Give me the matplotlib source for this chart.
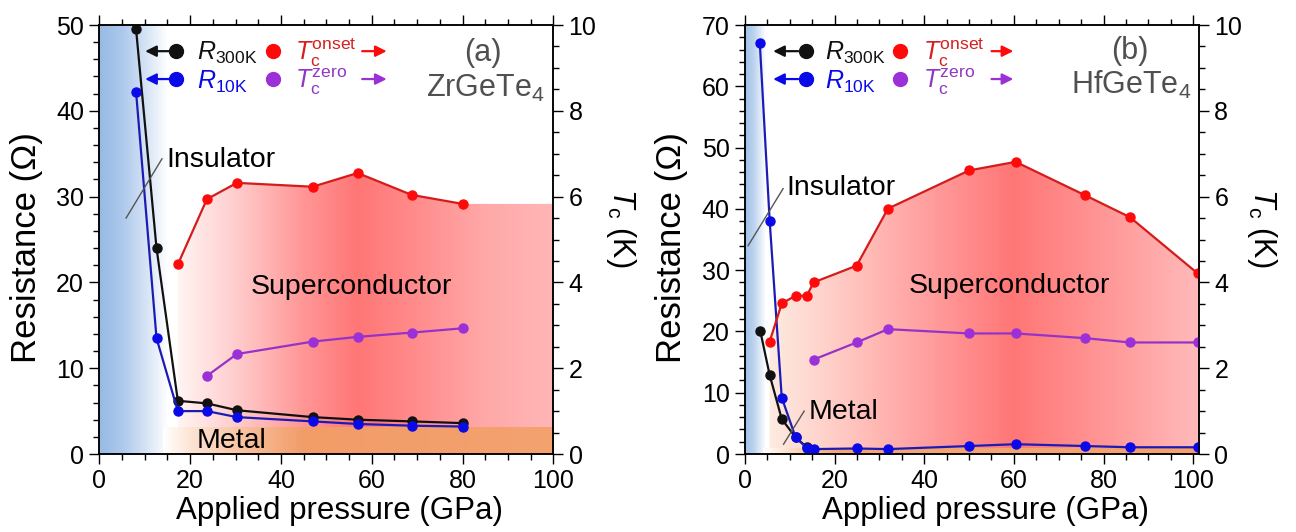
import numpy as np
import matplotlib
matplotlib.use('Agg')
import matplotlib.pyplot as plt
from matplotlib.patches import Polygon
from matplotlib.ticker import MultipleLocator

plt.rcParams['font.family'] = ['Liberation Sans', 'DejaVu Sans']
plt.rcParams['mathtext.fontset'] = 'custom'
plt.rcParams['mathtext.rm'] = 'Liberation Sans'
plt.rcParams['mathtext.it'] = 'Liberation Sans:italic'
plt.rcParams['mathtext.bf'] = 'Liberation Sans:bold'

# (a) ZrGeTe4
p_a = [8.1, 12.6, 17.3, 23.7, 30.3, 47.0, 56.9, 68.8, 80.0]
r300_a = [49.5, 24.0, 6.2, 5.9, 5.1, 4.3, 4.0, 3.8, 3.6]
r10_a = [42.2, 13.5, 5.0, 5.0, 4.3, 3.8, 3.5, 3.3, 3.2]
p_on_a = [17.3, 23.7, 30.3, 47.0, 56.9, 68.8, 80.0]
tc_onset_a = [4.42, 5.94, 6.32, 6.23, 6.55, 6.04, 5.83]
p_zero_a = [23.7, 30.3, 47.0, 56.9, 68.8, 80.0]
tc_zero_a = [1.82, 2.33, 2.62, 2.73, 2.83, 2.93]

# (b) HfGeTe4
p_r300_b = [3.4, 5.5, 8.2, 11.3, 13.8]
r300_b = [20.1, 12.9, 5.7, 2.7, 1.1]
p_r10_b = [3.3, 5.5, 8.2, 11.3, 13.8, 15.3, 24.9, 31.9, 50.0, 60.4, 75.9, 85.9, 101.0]
r10_b = [67.1, 38.1, 9.2, 2.7, 1.0, 0.8, 0.9, 0.8, 1.3, 1.6, 1.3, 1.1, 1.1]
p_on_b = [5.5, 8.2, 11.3, 13.8, 15.3, 24.9, 31.9, 50.0, 60.4, 75.9, 85.9, 101.0]
tc_onset_b = [2.62, 3.51, 3.69, 3.69, 4.00, 4.39, 5.72, 6.61, 6.81, 6.03, 5.52, 4.21]
p_zero_b = [15.3, 24.9, 31.9, 50.0, 60.4, 75.9, 85.9, 101.0]
tc_zero_b = [2.20, 2.60, 2.91, 2.81, 2.81, 2.70, 2.60, 2.60]

W, H = 1296, 532
fig = plt.figure(figsize=(W / 100, H / 100), dpi=100)


def hgrad(stops, n=300):
    xs = np.array([s[0] for s in stops], dtype=float)
    cols = np.array([s[1] for s in stops], dtype=float) / 255
    xx = np.linspace(xs[0], xs[-1], n)
    img = np.stack([np.interp(xx, xs, cols[:, k]) for k in range(3)], axis=-1)
    return img[np.newaxis, :, :], xs[0], xs[-1]


def draw_panel(left_px, xmax, rmax, d, blue_stops, sc_stops, metal_stops, metal_top):
    ax = fig.add_axes([left_px / W, 78 / H, 454 / W, 429 / H])
    ax2 = ax.twinx()
    ax.set_xlim(0, xmax)
    ax.set_ylim(0, rmax)
    ax2.set_ylim(0, 10)

    # insulator shading
    img, x0, x1 = hgrad(blue_stops)
    ax.imshow(img, extent=[x0, x1, 0, rmax], aspect='auto', zorder=0.2, interpolation='bilinear')
    # superconductor shading under Tc onset
    px = np.r_[d['p_on'][0], d['p_on'], xmax, xmax]
    py = np.r_[0, d['tc_on'], d['tc_on'][-1], 0]
    poly = Polygon(np.column_stack([px, py]), closed=True, transform=ax2.transData)
    img, x0, x1 = hgrad(sc_stops)
    im = ax.imshow(img, extent=[x0, x1, 0, rmax], aspect='auto', zorder=0.4, interpolation='bilinear')
    im.set_clip_path(poly)
    # metal band
    img, x0, x1 = hgrad(metal_stops)
    ax.imshow(img, extent=[x0, x1, 0, metal_top], aspect='auto', zorder=0.6, interpolation='bilinear')
    ax.set_xlim(0, xmax)
    ax.set_ylim(0, rmax)

    ax.plot(d['p_r300'], d['r300'], '-o', color='#111111', lw=1.6, ms=6.5, zorder=3)
    ax.plot(d['p_r10'], d['r10'], '-o', color='#1c1cb4', mfc='#0a0ae8', mec='#0a0ae8', lw=1.6, ms=6.5, zorder=4)
    ax2.plot(d['p_on'], d['tc_on'], '-o', color='#d41c1c', mfc='#ff0a0a', mec='#ff0a0a', lw=1.6, ms=6.5)
    ax2.plot(d['p_zero'], d['tc_zero'], '-o', color='#9632c8', mfc='#9b30d8', mec='#9b30d8', lw=1.6, ms=6.5)

    ax.xaxis.set_major_locator(MultipleLocator(20))
    ax.xaxis.set_minor_locator(MultipleLocator(5))
    ax.yaxis.set_major_locator(MultipleLocator(10))
    ax.yaxis.set_minor_locator(MultipleLocator(2))
    ax2.yaxis.set_major_locator(MultipleLocator(2))
    ax2.yaxis.set_minor_locator(MultipleLocator(0.5))
    for a in (ax, ax2):
        a.tick_params(which='both', direction='out', width=1.0, labelsize=18, pad=4)
        a.tick_params(which='major', length=7)
        a.tick_params(which='minor', length=4)
        for s in a.spines.values():
            s.set_linewidth(1.1)
    ax.tick_params(axis='x', which='both', top=True)
    return ax, ax2


def legend(ax, xs):
    # xs: arrow head, arrow tail, dot, text, dot2, text2, arrow2 tail, arrow2 head
    rows = [(0.939, 0.918), (0.874, 0.852)]
    left = [('#111111', r'$R_{\rm 300K}$'), ('#0a0ae8', r'$R_{\rm 10K}$')]
    right = [('#ff0a0a', '#d42020', r'$T_{\rm c}^{\rm onset}$'),
             ('#9b30d8', '#9035c5', r'$T_{\rm c}^{\rm zero}$')]
    for (yc, yb), (c, lab), (mc, tc, tlab) in zip(rows, left, right):
        ax.annotate('', xy=(xs[0], yc), xytext=(xs[1], yc), xycoords='axes fraction',
                    arrowprops=dict(arrowstyle='-|>,head_length=0.6,head_width=0.3', color=c,
                                    lw=1.6, mutation_scale=11, shrinkA=0, shrinkB=0))
        ax.plot([xs[2]], [yc], 'o', color=c, ms=10, transform=ax.transAxes, clip_on=False, zorder=5)
        ax.text(xs[3], yb, lab, color=c, fontsize=18, transform=ax.transAxes, va='baseline')
        ax.plot([xs[4]], [yc], 'o', color=mc, ms=10, transform=ax.transAxes, clip_on=False, zorder=5)
        ax.text(xs[5], yb, tlab, color=tc, fontsize=18, transform=ax.transAxes, va='baseline')
        ax.annotate('', xy=(xs[7], yc), xytext=(xs[6], yc), xycoords='axes fraction',
                    arrowprops=dict(arrowstyle='-|>,head_length=0.6,head_width=0.3', color=mc,
                                    lw=1.6, mutation_scale=11, shrinkA=0, shrinkB=0))


# ---- panel (a)
da = dict(p_r300=p_a, r300=r300_a, p_r10=p_a, r10=r10_a, p_on=p_on_a, tc_on=tc_onset_a,
          p_zero=p_zero_a, tc_zero=tc_zero_a)
axa, axa2 = draw_panel(
    99.3, 100, 50, da,
    blue_stops=[(0, (150, 186, 228)), (5, (172, 200, 236)), (10, (212, 226, 245)), (15, (255, 255, 255))],
    sc_stops=[(17, (255, 246, 244)), (30, (255, 205, 205)), (45, (255, 150, 150)), (57, (255, 118, 118)),
              (70, (255, 140, 140)), (85, (255, 168, 168)), (100, (255, 182, 182))],
    metal_stops=[(14, (255, 255, 255)), (20, (253, 228, 212)), (34, (247, 186, 148)),
                 (45, (242, 156, 104)), (100, (244, 162, 112))],
    metal_top=3.1)
legend(axa, [0.101, 0.156, 0.169, 0.215, 0.382, 0.431, 0.579, 0.633])
axa.text(0.845, 0.935, '(a)', transform=axa.transAxes, ha='center', va='center', fontsize=22, color='#505050')
axa.text(0.850, 0.853, r'ZrGeTe$_{\rm 4}$', transform=axa.transAxes, ha='center', va='center',
         fontsize=22, color='#505050')
axa.plot([5.9, 13.8], [27.5, 34.4], color='#555555', lw=1.0, zorder=5)
axa.text(14.7, 33.5, 'Insulator', fontsize=20.5, va='baseline', zorder=6)
axa.text(55.6, 18.7, 'Superconductor', fontsize=20.5, ha='center', va='baseline', zorder=6)
axa.text(29.2, 0.7, 'Metal', fontsize=20.5, ha='center', va='baseline', zorder=6)

# ---- panel (b)
db = dict(p_r300=p_r300_b, r300=r300_b, p_r10=p_r10_b, r10=r10_b, p_on=p_on_b, tc_on=tc_onset_b,
          p_zero=p_zero_b, tc_zero=tc_zero_b)
axb, axb2 = draw_panel(
    745, 101.3, 70, db,
    blue_stops=[(0, (160, 192, 232)), (2, (190, 212, 240)), (4.5, (255, 255, 255))],
    sc_stops=[(5, (253, 236, 226)), (20, (255, 205, 198)), (40, (255, 160, 160)), (60, (255, 118, 118)),
              (80, (255, 150, 150)), (101.3, (255, 186, 186))],
    metal_stops=[(4, (255, 255, 255)), (10, (252, 222, 200)), (20, (244, 166, 118)), (101.3, (243, 160, 110))],
    metal_top=0.9)
legend(axb, [0.062, 0.117, 0.134, 0.176, 0.341, 0.392, 0.543, 0.591])
axb.text(0.848, 0.939, '(b)', transform=axb.transAxes, ha='center', va='center', fontsize=22, color='#505050')
axb.text(0.850, 0.860, r'HfGeTe$_{\rm 4}$', transform=axb.transAxes, ha='center', va='center',
         fontsize=22, color='#505050')
axb.plot([0.7, 8.5], [34.0, 43.3], color='#555555', lw=1.0, zorder=5)
axb.text(9.3, 42.2, 'Insulator', fontsize=20.5, va='baseline', zorder=6)
axb.plot([8.6, 13.2], [1.6, 7.0], color='#555555', lw=1.0, zorder=5)
axb.text(14.3, 5.7, 'Metal', fontsize=20.5, va='baseline', zorder=6)
axb.text(59.0, 26.2, 'Superconductor', fontsize=20.5, ha='center', va='baseline', zorder=6)

# axis labels
for xc in (27, 672):
    fig.text(xc / W, 1 - 248 / H, 'Resistance (\u03a9)', rotation=90, ha='center', va='center', fontsize=25)
for xc in (621, 1262):
    fig.text(xc / W, 1 - 228 / H, r'$T_{\rm c}$ (K)', rotation=270, ha='center', va='center', fontsize=22)
for xc in (340, 985):
    fig.text(xc / W, 1 - 511 / H, 'Applied pressure (GPa)', ha='center', va='center', fontsize=22.5)

fig.savefig('out.png', dpi=100)
